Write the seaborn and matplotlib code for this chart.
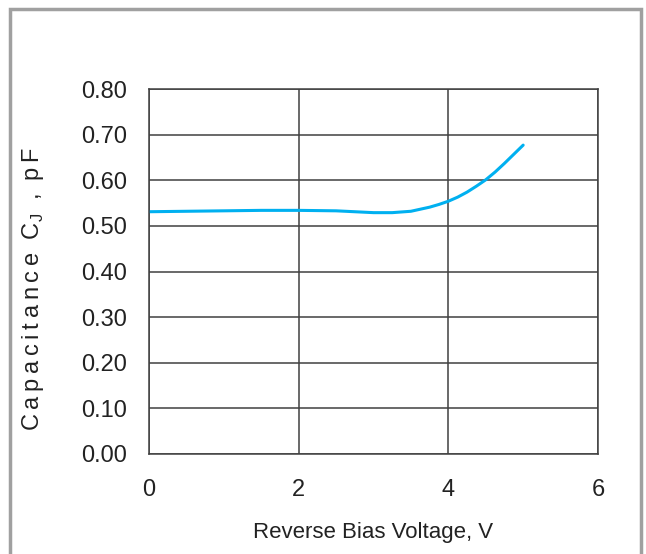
import matplotlib
matplotlib.use("Agg")
import matplotlib.pyplot as plt
import seaborn as sns
import pandas as pd
from matplotlib.patches import Rectangle

voltage = [0.0, 0.5, 1.0, 1.5, 2.0, 2.5, 2.75, 3.0, 3.25, 3.5, 3.75, 3.875, 4.0, 4.125, 4.25,
           4.375, 4.5, 4.625, 4.75, 4.875, 5.0]
capacitance = [0.531, 0.532, 0.533, 0.534, 0.534, 0.533, 0.531, 0.529, 0.529, 0.532, 0.541, 0.547,
               0.554, 0.563, 0.574, 0.587, 0.601, 0.618, 0.637, 0.657, 0.677]
xticks = [0, 2, 4, 6]
yticks = [0.0, 0.1, 0.2, 0.3, 0.4, 0.5, 0.6, 0.7, 0.8]
ytick_labels = ["0.00", "0.10", "0.20", "0.30", "0.40", "0.50", "0.60", "0.70", "0.80"]

sns.set_style("white")
plt.rcParams['font.family'] = ['Liberation Sans', 'DejaVu Sans']
plt.rcParams['mathtext.fontset'] = 'custom'
plt.rcParams['mathtext.rm'] = 'Liberation Sans'

df = pd.DataFrame({"V": voltage, "C": capacitance})

fig = plt.figure(figsize=(6.46, 5.54), dpi=100)
ax = fig.add_axes([149/646, 1 - 454/554, (598-149)/646, (454-89)/554])

sns.lineplot(data=df, x="V", y="C", ax=ax, color="#00b0f0", linewidth=2.2)

ax.set_xlim(0, 6)
ax.set_ylim(0, 0.8)
ax.set_xticks(xticks)
ax.set_xticklabels([str(t) for t in xticks])
ax.set_yticks(yticks)
ax.set_yticklabels(ytick_labels)
ax.grid(True, color="#404040", linewidth=1.1)
for s in ax.spines.values():
    s.set_color("#404040")
    s.set_linewidth(1.1)
ax.tick_params(axis="both", length=0, labelsize=17, colors="#222222")
ax.tick_params(axis="x", pad=18)
ax.tick_params(axis="y", pad=16)

ax.set_xlabel("Reverse Bias Voltage, V", fontsize=16, color="#222222", labelpad=15)
ts = "\u2009"
ylab = ts.join("Capacitance") + "  " + "C$_\\mathregular{J}$" + "  ,  " + ts.join("pF")
ax.set_ylabel(ylab, fontsize=17, color="#222222")
ax.yaxis.set_label_coords(-0.23, 0.452)

rect = Rectangle((10/646, -0.05), (641-10)/646, 1.05 - 9/554, transform=fig.transFigure,
                 fill=False, edgecolor="#a0a0a0", linewidth=2.5, clip_on=False)
fig.patches.append(rect)

fig.savefig("out.png", dpi=100)
